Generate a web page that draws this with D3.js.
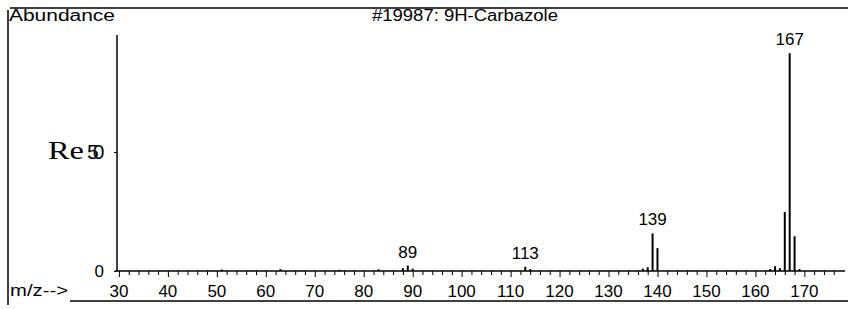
<!DOCTYPE html>
<html>
<head>
<meta charset="utf-8">
<script src="https://cdn.jsdelivr.net/npm/d3@7"></script>
<style>
  body { margin: 0; background: #fff; }
  svg text { font-family: "Liberation Sans", Arial, sans-serif; fill: #000; }
</style>
</head>
<body>
<div id="graph"></div>
<script>
// m/z values and relative abundance
const mz = [51, 63, 75, 83, 88, 89, 90, 113, 114, 137, 138, 139, 140, 163, 164, 165, 166, 167, 168, 169];
const abundance = [0.6, 0.8, 0.5, 0.7, 1.2, 2.3, 1.0, 1.8, 0.8, 1.0, 1.6, 15.8, 9.6, 0.8, 2.0, 1.2, 24.8, 91.5, 14.6, 0.8];
const peakLabels = [89, 113, 139, 167];
const xTickValues = [30, 40, 50, 60, 70, 80, 90, 100, 110, 120, 130, 140, 150, 160, 170];

const w = 848, h = 309;
const svg = d3.select('#graph').append('svg').attr('width', w).attr('height', h);

const xScale = d3.scaleLinear().domain([29.2, 178.3]).range([115, 845]);
const yScale = d3.scaleLinear().domain([0, 100]).range([271, 33]);

// frame
svg.append('line').attr('x1', 10).attr('x2', 848).attr('y1', 8).attr('y2', 8).attr('stroke', '#000').attr('stroke-width', 1.5);
svg.append('line').attr('x1', 8).attr('x2', 8).attr('y1', 10).attr('y2', 305).attr('stroke', '#000').attr('stroke-width', 1.5);
svg.append('line').attr('x1', 70).attr('x2', 848).attr('y1', 301).attr('y2', 301).attr('stroke', '#000').attr('stroke-width', 1.5);

svg.append('text').attr('x', 9).attr('y', 21).style('font-size', '16px')
  .attr('textLength', 106).attr('lengthAdjust', 'spacingAndGlyphs').text('Abundance');
svg.append('text').attr('x', 372).attr('y', 21).style('font-size', '16px')
  .attr('textLength', 186).attr('lengthAdjust', 'spacingAndGlyphs').text('#19987: 9H-Carbazole');

// x axis
const xAxis = d3.axisBottom(xScale)
  .tickValues(d3.range(30, 178, 2))
  .tickSize(4)
  .tickFormat('');
const gx = svg.append('g').attr('transform', 'translate(0,271)').call(xAxis);
gx.select('.domain').attr('d', 'M115,0H845').attr('stroke-width', 1.5);
gx.selectAll('.tick line').attr('y2', d => d % 10 === 0 ? 6 : 4);
svg.append('g').selectAll('text').data(xTickValues).enter().append('text')
  .attr('x', d => xScale(d))
  .attr('y', 297)
  .attr('text-anchor', 'middle')
  .style('font-size', '17px')
  .text(d => d);
svg.append('text').attr('x', 10).attr('y', 296).style('font-size', '16px')
  .attr('textLength', 58).attr('lengthAdjust', 'spacingAndGlyphs').text('m/z-->');

// y axis
const yAxis = d3.axisLeft(yScale).tickValues([0, 50]).tickSize(3).tickFormat('');
const gy = svg.append('g').attr('transform', 'translate(117,0)').call(yAxis);
gy.select('.domain').attr('d', 'M0,35V271').attr('stroke-width', 1.5);
svg.append('text').attr('x', 104).attr('y', 277).attr('text-anchor', 'end').style('font-size', '17px').text('0');
svg.append('text').attr('x', 48).attr('y', 159).style('font-family', '"Liberation Serif", serif').style('font-size', '26px')
  .attr('textLength', 36).attr('lengthAdjust', 'spacingAndGlyphs').text('Re');
svg.append('text').attr('x', 87).attr('y', 159).style('font-size', '21px').style('letter-spacing', '-6px').text('50');

// peaks
svg.append('g').selectAll('line').data(mz).enter().append('line')
  .attr('x1', d => xScale(d)).attr('x2', d => xScale(d))
  .attr('y1', yScale(0))
  .attr('y2', (d, i) => yScale(abundance[i]))
  .attr('stroke', '#000').attr('stroke-width', 2);

svg.append('g').selectAll('text').data(peakLabels).enter().append('text')
  .attr('x', d => xScale(d))
  .attr('y', d => yScale(abundance[mz.indexOf(d)]) - 8)
  .attr('text-anchor', 'middle')
  .style('font-size', '17px')
  .text(d => d);
</script>
</body>
</html>
